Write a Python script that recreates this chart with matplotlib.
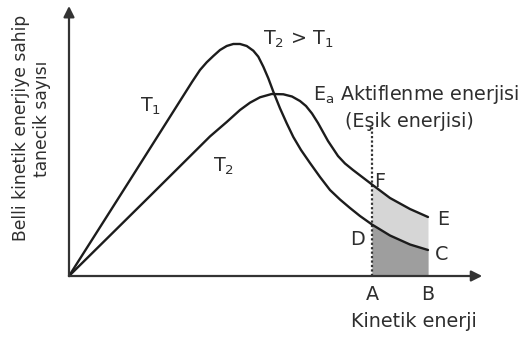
import numpy as np
import matplotlib
matplotlib.use("Agg")
import matplotlib.pyplot as plt

# ---- data (arbitrary units) ----
t1_x = np.array([0, 1.525, 3.075, 3.275, 3.443, 3.608, 3.775, 3.943, 4.108, 4.275,
                 4.443, 4.608, 4.733, 4.858, 4.983, 5.108, 5.275, 5.443, 5.608, 5.8,
                 6.025, 6.275, 6.525, 6.775, 7.025, 7.275, 7.575, 8.025, 8.525, 8.975])
t1_y = np.array([0, 3.556, 7.185, 7.630, 7.915, 8.148, 8.370, 8.519, 8.593, 8.593,
                 8.519, 8.344, 8.122, 7.752, 7.322, 6.826, 6.211, 5.656, 5.148, 4.667,
                 4.185, 3.667, 3.185, 2.833, 2.519, 2.222, 1.907, 1.5, 1.167, 0.963])
t2_x = np.array([0, 2.025, 3.525, 3.943, 4.275, 4.525, 4.775, 5.068, 5.358, 5.575,
                 5.775, 5.925, 6.075, 6.225, 6.475, 6.725, 6.9, 7.1, 7.575, 8.025,
                 8.525, 8.975])
t2_y = np.array([0, 2.963, 5.170, 5.704, 6.148, 6.419, 6.619, 6.741, 6.730, 6.648,
                 6.481, 6.296, 6.019, 5.667, 5.0, 4.444, 4.167, 3.926, 3.389, 2.889,
                 2.481, 2.185])
Ea = 7.575        # A: activation energy
B_end = 8.975     # B
Ea_line_top = 5.6

ylabel_lines = ["Belli kinetik enerjiye sahip", "tanecik sayısı"]
xlabel = "Kinetik enerji"

# ---- figure ----
fig = plt.figure(figsize=(5.27, 3.40), dpi=100)
ax = fig.add_axes([0, 0, 1, 1])
ax.set_xlim(-1.725, 11.45)
ax.set_ylim(-2.37, 10.222)
ax.axis("off")

ink = "#1c1c1c"
txt = "#2e2e2e"
fs = 13.8

# shading between A and B
m2 = t2_x >= Ea
m1 = t1_x >= Ea
ax.fill_between(t2_x[m2], 0, t2_y[m2], color="#d6d6d6", lw=0, zorder=1)
ax.fill_between(t1_x[m1], 0, t1_y[m1], color="#9e9e9e", lw=0, zorder=2)

# axes with arrows
ax.annotate("", xy=(10.33, 0), xytext=(0, 0),
            arrowprops=dict(arrowstyle="-|>", color="#333333", lw=1.6,
                            mutation_scale=16, shrinkA=0, shrinkB=0), zorder=5)
ax.annotate("", xy=(0, 10.0), xytext=(0, 0),
            arrowprops=dict(arrowstyle="-|>", color="#333333", lw=1.6,
                            mutation_scale=16, shrinkA=0, shrinkB=0), zorder=5)

# curves
ax.plot(t1_x, t1_y, color=ink, lw=1.7, solid_capstyle="round",
        solid_joinstyle="round", zorder=4)
ax.plot(t2_x, t2_y, color=ink, lw=1.7, solid_capstyle="round",
        solid_joinstyle="round", zorder=4)

# activation energy dotted line
ax.plot([Ea, Ea], [0, Ea_line_top], color="#333333", lw=1.6,
        linestyle=(0, (1, 1)), zorder=3)

# texts
kw = dict(color=txt, fontsize=fs, family="DejaVu Sans")
ax.text(1.775, 6.07, "T$_1$", ha="left", va="baseline", **kw)
ax.text(3.6, 3.85, "T$_2$", ha="left", va="baseline", **kw)
ax.text(4.85, 8.56, "T$_2$ > T$_1$", ha="left", va="baseline", **kw)
ax.text(6.1, 6.52, r"E$_\mathrm{a}$ Aktiflenme enerjisi", ha="left", va="baseline", **kw)
ax.text(6.9, 5.52, "(Eşik enerjisi)", ha="left", va="baseline", **kw)
ax.text(7.625, 3.30, "F", ha="left", va="baseline", **kw)
ax.text(9.2, 1.89, "E", ha="left", va="baseline", **kw)
ax.text(7.025, 1.15, "D", ha="left", va="baseline", **kw)
ax.text(9.15, 0.59, "C", ha="left", va="baseline", **kw)
ax.text(Ea, -0.89, "A", ha="center", va="baseline", **kw)
ax.text(B_end, -0.89, "B", ha="center", va="baseline", **kw)
ax.text(8.625, -1.89, xlabel, ha="center", va="baseline", **kw)

ax.text(-1.19, 5.48, ylabel_lines[0], rotation=90, ha="center", va="center",
        color=txt, fontsize=12.3, family="DejaVu Sans")
ax.text(-0.675, 5.81, ylabel_lines[1], rotation=90, ha="center", va="center",
        color=txt, fontsize=12.3, family="DejaVu Sans")

fig.savefig("out.png", dpi=100)
